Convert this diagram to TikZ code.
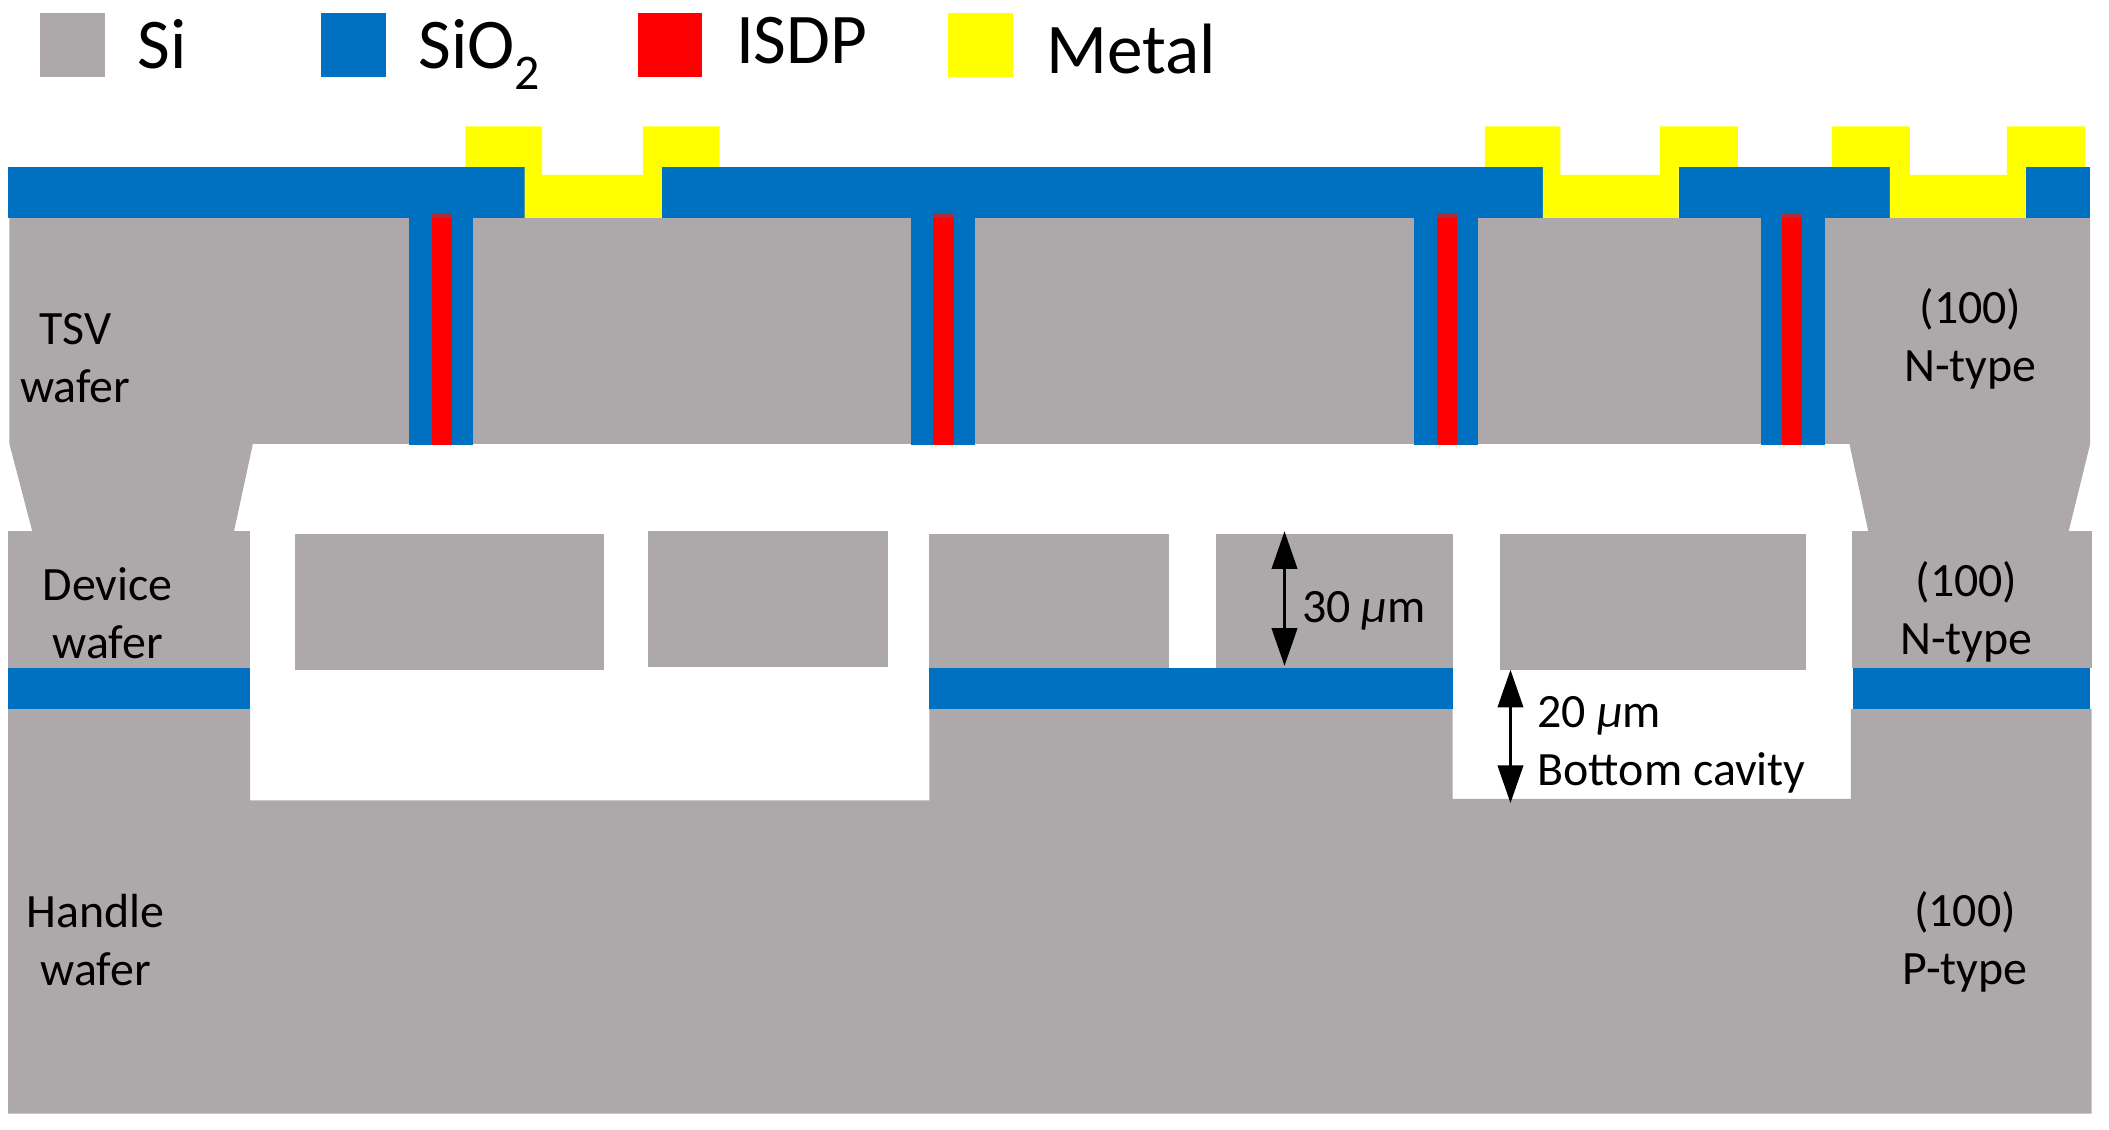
\documentclass[tikz,border=0pt]{standalone}
\usepackage{fontspec}
\setmainfont{Carlito}
\usetikzlibrary{arrows.meta}
\definecolor{sicol}{HTML}{ADA9AA}
\definecolor{oxcol}{HTML}{0070C0}
\definecolor{isdpcol}{HTML}{FF0000}
\definecolor{isdptop}{HTML}{B02A3A}
\definecolor{metcol}{HTML}{FFFF00}
\tikzset{
  si/.style={fill=sicol,draw=none},
  ox/.style={fill=oxcol,draw=none},
  isdp/.style={fill=isdpcol,draw=none},
  met/.style={fill=metcol,draw=none},
  lab/.style={font=\fontsize{35.6}{43}\selectfont,align=center,text=black,inner sep=0pt,anchor=center},
  leg/.style={font=\fontsize{53}{60}\selectfont,text=black,inner sep=0pt,anchor=base west},
  dim/.style={draw=black,line width=1.7pt,{Triangle[length=28pt,width=19pt]}-{Triangle[length=28pt,width=19pt]},shorten <=0pt,shorten >=0pt}
}
\newcommand{\myvia}[2]{%
  \fill[ox] (#1,162) rectangle (#1+48,331);
  \fill[isdp] (#2,162) rectangle (#2+15,331);
  \fill[isdptop] (#2,158) rectangle (#2+15,162);
}
\begin{document}
\begin{tikzpicture}[x=1pt,y=-1pt]
\useasboundingbox (0,0) rectangle (1568,839.4);
\fill[white] (0,0) rectangle (1568,839.4);
% legend
\fill[si] (30,10) rectangle (78,57);
\fill[ox] (239,10) rectangle (287,57);
\fill[isdp] (474,10) rectangle (522,57);
\fill[met] (705,10) rectangle (753,57);
\node[leg] (lsi) at (102,51) {Si};
\node[leg] (lox) at (311,51) {SiO\textsubscript{2}};
\node[leg] (lis) at (547,47) {ISDP};
\node[leg] (lme) at (778,55) {Metal};
% silicon
\fill[si] (7,162) -- (1554,162) -- (1554,330) -- (1538,395) -- (1389,395) -- (1375,330)
  -- (188,330) -- (174,395) -- (24,395) -- (7,330) -- cycle;
\fill[si] (6,395) rectangle (186,497);
\fill[si] (1377,395) rectangle (1555,497);
\fill[si] (219,397) rectangle (449,498);
\fill[si] (482,395) rectangle (660,496);
\fill[si] (691,397) rectangle (869,498);
\fill[si] (904,397) rectangle (1080,498);
\fill[si] (1115,397) rectangle (1343,498);
\fill[si] (6,527) -- (186,527) -- (186,595) -- (691,595) -- (691,527) -- (1080,527)
  -- (1080,594) -- (1376,594) -- (1376,527) -- (1555,527) -- (1555,828) -- (6,828) -- cycle;
% lower oxide
\fill[ox] (6,497) rectangle (186,527);
\fill[ox] (691,497) rectangle (1080,527);
\fill[ox] (1378,497) rectangle (1554,527);
% upper oxide
\fill[ox] (6,124) rectangle (390,162);
\fill[ox] (492,124) rectangle (1147,162);
\fill[ox] (1248,124) rectangle (1405,162);
\fill[ox] (1506,124) rectangle (1554,162);
% vias
\myvia{304}{321}
\myvia{677}{694}
\myvia{1051}{1068}
\myvia{1309}{1325}
% metal
\fill[met] (346,94) -- (403,94) -- (403,130) -- (478,130) -- (478,94) -- (535,94) -- (535,124)
  -- (492,124) -- (492,162) -- (390,162) -- (390,124) -- (346,124) -- cycle;
\fill[met] (1104,94) -- (1160,94) -- (1160,130) -- (1234,130) -- (1234,94) -- (1292,94) -- (1292,124)
  -- (1248,124) -- (1248,162) -- (1147,162) -- (1147,124) -- (1104,124) -- cycle;
\fill[met] (1362,94) -- (1420,94) -- (1420,130) -- (1492,130) -- (1492,94) -- (1550,94) -- (1550,124)
  -- (1506,124) -- (1506,162) -- (1405,162) -- (1405,124) -- (1362,124) -- cycle;
% labels
\node[lab] (tsv) at (56,266) {TSV\\wafer};
\node[lab] (dev) at (80,456) {Device\\wafer};
\node[lab] (han) at (71,699) {Handle\\wafer};
\node[lab] (ta) at (1465,252) {(100)\\N-type};
\node[lab] (tb) at (1462,455) {(100)\\N-type};
\node[lab] (tc) at (1461,700) {(100)\\P-type};
\node[lab,anchor=west] (d30) at (968,454) {30 \textit{µ}m};
\node[lab,anchor=west,align=left] (d20) at (1143,554) {20 \textit{µ}m\\Bottom cavity};
% dimensions
\coordinate (a30t) at (955,395);
\coordinate (a30b) at (955,495);
\coordinate (a20t) at (1123,498);
\coordinate (a20b) at (1123,597);
\draw[dim] (a30t) -- (a30b);
\draw[dim] (a20t) -- (a20b);
\end{tikzpicture}
\end{document}
